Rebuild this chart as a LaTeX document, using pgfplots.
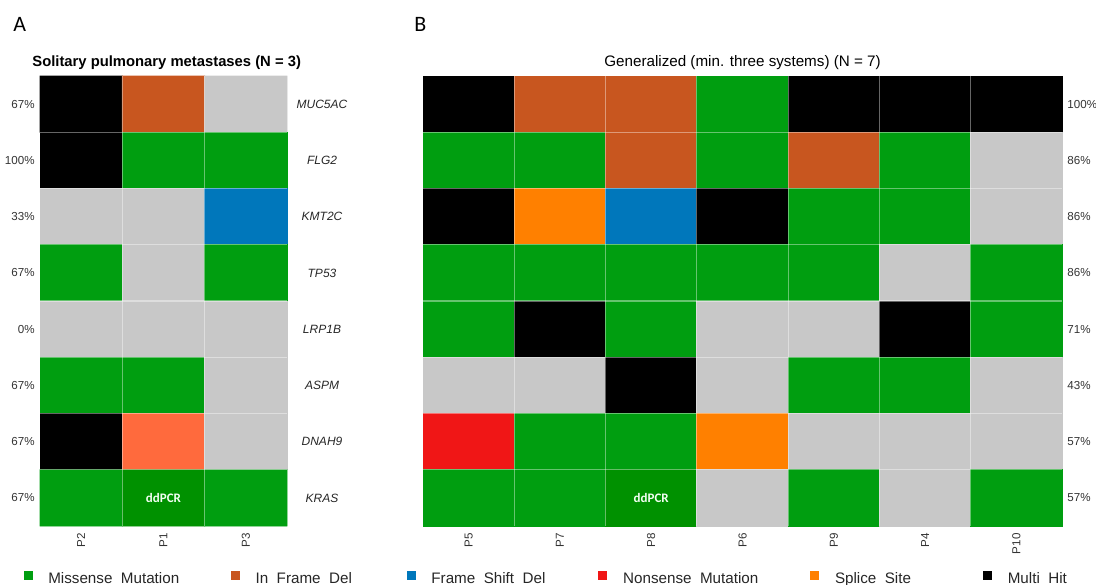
\documentclass[border=0pt]{standalone}
\usepackage{pgfplots}
\pgfplotsset{compat=1.18}
\usepackage{fontspec}
\setmainfont{Liberation Sans}
\newfontfamily\carl{Carlito}
\newcommand\fs[1]{\fontsize{#1}{#1}\selectfont}
\definecolor{cGray}{RGB}{200,200,200}
\definecolor{cMis}{RGB}{0,158,16}
\definecolor{cIFD}{RGB}{200,86,31}
\definecolor{cFSD}{RGB}{0,119,187}
\definecolor{cNon}{RGB}{240,22,22}
\definecolor{cSpl}{RGB}{255,128,0}
\definecolor{cMul}{RGB}{0,0,0}
\definecolor{cTom}{RGB}{255,106,61}
\definecolor{cDk}{RGB}{0,145,0}

\pgfplotsset{
  colormap={mut}{rgb255=(200,200,200) rgb255=(0,158,16) rgb255=(200,86,31) rgb255=(0,119,187) rgb255=(240,22,22) rgb255=(255,128,0) rgb255=(0,0,0) rgb255=(255,106,61) rgb255=(0,145,0)},
  heat/.style={scale only axis, anchor=south west, y dir=reverse,
    ymin=-0.5, ymax=7.5, enlargelimits=false,
    axis line style={draw=none},
    ytick={0,1,2,3,4,5,6,7}, yticklabels={,,,,,,,},
    yticklabel style={opacity=0},
    major tick length=0pt, minor tick length=0pt,
    xticklabel style={font=\fs{5.8}, text=black!80, rotate=90, anchor=east},
    xticklabel shift=0.2pt,
    minor ytick={0.5,1.5,2.5,3.5,4.5,5.5,6.5},
    xminorgrids=true, yminorgrids=true,
    minor grid style={white, opacity=0.4, line width=0.6pt},
    axis on top, clip=false,
    colormap name=mut, colormap access=direct,
    height=225pt},
}
\tikzset{
  pct/.style={font=\fs{5.8}, text=black!80, inner sep=0pt},
  gene/.style={font=\fs{6}\itshape, text=black!85, inner sep=0pt},
}

\pgfplotstableread{
x y c
0 0 6
1 0 2
2 0 0
0 1 6
1 1 1
2 1 1
0 2 0
1 2 0
2 2 3
0 3 1
1 3 0
2 3 1
0 4 0
1 4 0
2 4 0
0 5 1
1 5 1
2 5 0
0 6 6
1 6 7
2 6 0
0 7 1
1 7 8
2 7 1
}\tabA

\pgfplotstableread{
x y c
0 0 6
1 0 2
2 0 2
3 0 1
4 0 6
5 0 6
6 0 6
0 1 1
1 1 1
2 1 2
3 1 1
4 1 2
5 1 1
6 1 0
0 2 6
1 2 5
2 2 3
3 2 6
4 2 1
5 2 1
6 2 0
0 3 1
1 3 1
2 3 1
3 3 1
4 3 1
5 3 0
6 3 1
0 4 1
1 4 6
2 4 1
3 4 0
4 4 0
5 4 6
6 4 1
0 5 0
1 5 0
2 5 6
3 5 0
4 5 1
5 5 1
6 5 0
0 6 4
1 6 1
2 6 1
3 6 5
4 6 0
5 6 0
6 6 0
0 7 1
1 7 1
2 7 8
3 7 0
4 7 1
5 7 0
6 7 1
}\tabB

\begin{document}
\begin{tikzpicture}
\useasboundingbox (0,0) rectangle (548pt,292pt);

\node[anchor=base west, inner sep=0pt] at (6.5pt,276pt) {\carl\fs{11}A};
\node[anchor=base west, inner sep=0pt] at (207pt,276pt) {\carl\fs{11}B};
\node[anchor=base west, inner sep=0pt] at (16pt,258.5pt) {\bfseries\fs{7.4}Solitary pulmonary metastases (N = 3)};
\node[anchor=base, inner sep=0pt] at (371.25pt,258.5pt) {\fs{7.6}Generalized (min. three systems) (N = 7)};

% Panel A
\begin{axis}[heat, at={(20pt,29pt)}, width=123.5pt,
  xmin=-0.5, xmax=2.5,
  xtick={0,1,2}, xticklabels={P2,P1,P3},
  minor xtick={0.5,1.5},
  legend columns=6,
  legend style={at={(-0.0668,-0.1344)}, anchor=south west, draw=none, fill=none,
    inner sep=0pt, outer sep=0pt, font=\fs{7.6}, text=black!85,
    column sep=0pt, row sep=0pt, nodes={inner sep=0pt, outer sep=0pt}},
  legend cell align=left]
\addplot[matrix plot*, point meta=explicit, mesh/cols=3, forget plot] table[x=x, y=y, meta=c] {\tabA};
\addlegendimage{legend image code/.code={\fill[cMis] (0pt,0pt) rectangle (4pt,4pt);}}
\addlegendentry{\hspace*{8pt}\makebox[91.25pt][l]{\rule[-2pt]{0pt}{8pt}Missense\_Mutation}}
\addlegendimage{legend image code/.code={\fill[cIFD] (0pt,0pt) rectangle (4pt,4pt);}}
\addlegendentry{\hspace*{8pt}\makebox[75.5pt][l]{\rule[-2pt]{0pt}{8pt}In\_Frame\_Del}}
\addlegendimage{legend image code/.code={\fill[cFSD] (0pt,0pt) rectangle (4pt,4pt);}}
\addlegendentry{\hspace*{8pt}\makebox[83.5pt][l]{\rule[-2pt]{0pt}{8pt}Frame\_Shift\_Del}}
\addlegendimage{legend image code/.code={\fill[cNon] (0pt,0pt) rectangle (4pt,4pt);}}
\addlegendentry{\hspace*{8pt}\makebox[93.5pt][l]{\rule[-2pt]{0pt}{8pt}Nonsense\_Mutation}}
\addlegendimage{legend image code/.code={\fill[cSpl] (0pt,0pt) rectangle (4pt,4pt);}}
\addlegendentry{\hspace*{8pt}\makebox[74pt][l]{\rule[-2pt]{0pt}{8pt}Splice\_Site}}
\addlegendimage{legend image code/.code={\fill[cMul] (0pt,0pt) rectangle (4pt,4pt);}}
\addlegendentry{\hspace*{8pt}\rule[-2pt]{0pt}{8pt}Multi\_Hit}

\node[pct, anchor=east, xshift=-2.5pt] at (axis cs:-0.5,0) {67\%};
\node[pct, anchor=east, xshift=-2.5pt] at (axis cs:-0.5,1) {100\%};
\node[pct, anchor=east, xshift=-2.5pt] at (axis cs:-0.5,2) {33\%};
\node[pct, anchor=east, xshift=-2.5pt] at (axis cs:-0.5,3) {67\%};
\node[pct, anchor=east, xshift=-2.5pt] at (axis cs:-0.5,4) {0\%};
\node[pct, anchor=east, xshift=-2.5pt] at (axis cs:-0.5,5) {67\%};
\node[pct, anchor=east, xshift=-2.5pt] at (axis cs:-0.5,6) {67\%};
\node[pct, anchor=east, xshift=-2.5pt] at (axis cs:-0.5,7) {67\%};

\node[gene, xshift=17.5pt] at (axis cs:2.5,0) {MUC5AC};
\node[gene, xshift=17.5pt] at (axis cs:2.5,1) {FLG2};
\node[gene, xshift=17.5pt] at (axis cs:2.5,2) {KMT2C};
\node[gene, xshift=17.5pt] at (axis cs:2.5,3) {TP53};
\node[gene, xshift=17.5pt] at (axis cs:2.5,4) {LRP1B};
\node[gene, xshift=17.5pt] at (axis cs:2.5,5) {ASPM};
\node[gene, xshift=17.5pt] at (axis cs:2.5,6) {DNAH9};
\node[gene, xshift=17.5pt] at (axis cs:2.5,7) {KRAS};

\node[text=white!95!green, inner sep=0pt] at (axis cs:1,7) {\carl\bfseries\fs{6.5}ddPCR};
\end{axis}

% Panel B
\begin{axis}[heat, at={(211.5pt,29pt)}, width=319.5pt,
  xmin=-0.5, xmax=6.5,
  xtick={0,1,2,3,4,5,6}, xticklabels={P5,P7,P8,P6,P9,P4,P10},
  minor xtick={0.5,1.5,2.5,3.5,4.5,5.5}]
\addplot[matrix plot*, point meta=explicit, mesh/cols=7, forget plot] table[x=x, y=y, meta=c] {\tabB};

\node[pct, anchor=west, xshift=2.5pt] at (axis cs:6.5,0) {100\%};
\node[pct, anchor=west, xshift=2.5pt] at (axis cs:6.5,1) {86\%};
\node[pct, anchor=west, xshift=2.5pt] at (axis cs:6.5,2) {86\%};
\node[pct, anchor=west, xshift=2.5pt] at (axis cs:6.5,3) {86\%};
\node[pct, anchor=west, xshift=2.5pt] at (axis cs:6.5,4) {71\%};
\node[pct, anchor=west, xshift=2.5pt] at (axis cs:6.5,5) {43\%};
\node[pct, anchor=west, xshift=2.5pt] at (axis cs:6.5,6) {57\%};
\node[pct, anchor=west, xshift=2.5pt] at (axis cs:6.5,7) {57\%};

\node[text=white!95!green, inner sep=0pt] at (axis cs:2,7) {\carl\bfseries\fs{6.5}ddPCR};
\end{axis}
\end{tikzpicture}
\end{document}
